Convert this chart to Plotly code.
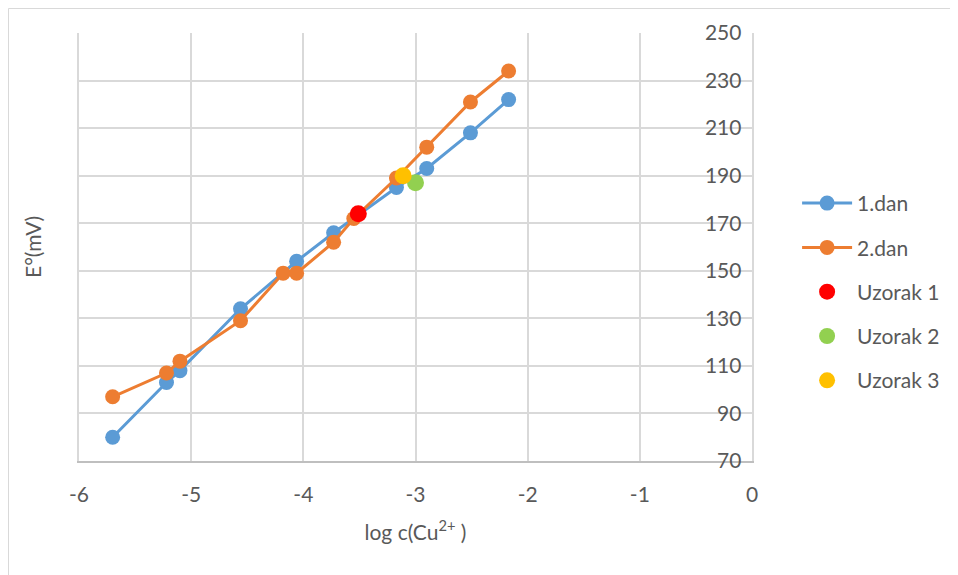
import plotly.graph_objects as go

# Data
dan1_x = [-5.70, -5.22, -5.10, -4.56, -4.06, -3.73, -3.17, -2.90, -2.51, -2.17]
dan1_y = [80, 103, 108, 134, 154, 166, 185, 193, 208, 222]
dan2_x = [-5.70, -5.22, -5.10, -4.56, -4.18, -4.06, -3.73, -3.55, -3.17, -2.90, -2.51, -2.17]
dan2_y = [97, 107, 112, 129, 149, 149, 162, 172, 189, 202, 221, 234]
uz1_x, uz1_y = [-3.51], [174]
uz2_x, uz2_y = [-3.00], [187]
uz3_x, uz3_y = [-3.11], [190]

x_ticks = [-6, -5, -4, -3, -2, -1, 0]
y_ticks = [70, 90, 110, 130, 150, 170, 190, 210, 230, 250]

FONT = "Lato, 'Liberation Sans', sans-serif"
TXT = "#595959"

# page body has an 8px margin; compensate
OFF = 8
W, H = 958 - OFF, 575 - OFF
L, T = 79 - OFF, 33 - OFF
PW, PH = 673, 428

fig = go.Figure()
fig.add_trace(go.Scatter(x=dan1_x, y=dan1_y, mode="lines+markers", name="1.dan",
                         line=dict(color="#5b9bd5", width=3),
                         marker=dict(color="#5b9bd5", size=15), legendgroup="a"))
fig.add_trace(go.Scatter(x=dan2_x, y=dan2_y, mode="lines+markers", name="2.dan",
                         line=dict(color="#ed7d31", width=3),
                         marker=dict(color="#ed7d31", size=15), legendgroup="b"))
fig.add_trace(go.Scatter(x=uz1_x, y=uz1_y, mode="markers", name="Uzorak 1",
                         marker=dict(color="#ff0000", size=17), legendgroup="c"))
fig.add_trace(go.Scatter(x=uz2_x, y=uz2_y, mode="markers", name="Uzorak 2",
                         marker=dict(color="#92d050", size=17), legendgroup="d"))
fig.add_trace(go.Scatter(x=uz3_x, y=uz3_y, mode="markers", name="Uzorak 3",
                         marker=dict(color="#ffc000", size=17), legendgroup="e"))

fig.update_layout(
    width=W, height=H,
    margin=dict(l=L, r=W - L - PW, t=T, b=H - T - PH, autoexpand=False),
    paper_bgcolor="white", plot_bgcolor="white",
    font=dict(family=FONT, size=21, color=TXT),
    showlegend=True,
    legend=dict(x=1.067, y=0.395, xanchor="left", yanchor="middle",
                font=dict(family=FONT, size=21, color=TXT),
                itemwidth=50, tracegroupgap=14, bgcolor="rgba(0,0,0,0)"),
    xaxis=dict(range=[-6, 0], tickvals=x_ticks, ticktext=[str(v) for v in x_ticks],
               showgrid=True, gridcolor="#d9d9d9", gridwidth=1.5,
               showline=True, linecolor="#bfbfbf", linewidth=1.5,
               zeroline=False, ticks="", ticklabelstandoff=14,
               ticklabeloverflow="allow", automargin=False,
               tickfont=dict(family=FONT, size=21, color=TXT),
               title=dict(text="log c(Cu<sup>2+</sup> )", standoff=20,
                          font=dict(family=FONT, size=21, color=TXT))),
    yaxis=dict(range=[70, 250], tickvals=y_ticks, ticktext=[str(v) for v in y_ticks],
               side="right", ticklabelposition="inside",
               ticklabeloverflow="allow", automargin=False,
               showgrid=True, gridcolor="#d9d9d9", gridwidth=1.5,
               showline=True, mirror=True, linecolor="#d9d9d9", linewidth=1.5,
               zeroline=False, ticks="", ticklabelstandoff=12,
               tickfont=dict(family=FONT, size=21, color=TXT)),
    annotations=[dict(text="E°(mV)", textangle=-90, xref="paper", yref="paper",
                      x=(32 - 79) / PW, y=0.5, xanchor="center", yanchor="middle",
                      showarrow=False, font=dict(family=FONT, size=21, color=TXT))],
    shapes=[dict(type="rect", xref="paper", yref="paper",
                 x0=(0.5 - L) / PW, x1=1.6, y0=-0.6, y1=1 + (T - 0.5) / PH,
                 line=dict(color="#d9d9d9", width=1), layer="below")],
)

fig.write_html("out.html")
